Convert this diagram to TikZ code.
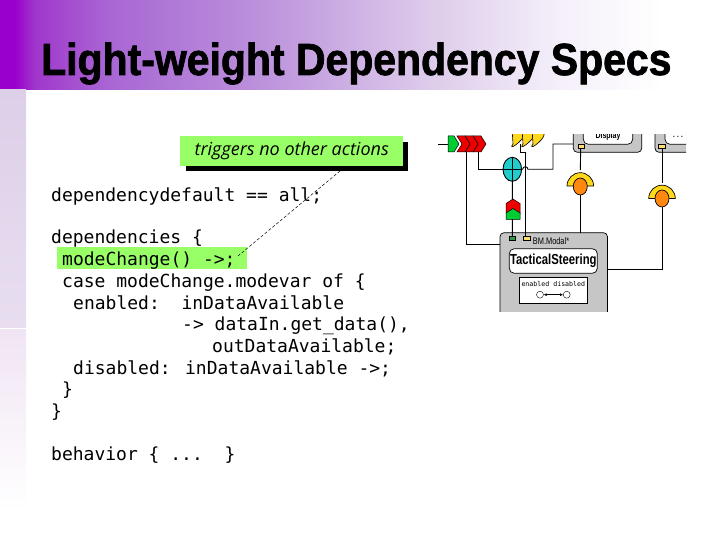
\documentclass[tikz,border=0pt]{standalone}
\usepackage{fontspec}
\usetikzlibrary{shapes.geometric,arrows.meta,calc}
\setmainfont{Liberation Sans}
\newfontfamily\codefont{DejaVu Sans Mono}
\newfontfamily\noteFont{Open Sans}
\newfontfamily\titlefont[FakeStretch=0.91,BoldFeatures={FakeBold=1.6,FakeStretch=0.91}]{Liberation Sans}
\newfontfamily\narrowfont[FakeStretch=0.78,BoldFeatures={FakeStretch=0.78}]{Liberation Sans}
\definecolor{noteGreen}{HTML}{99FF66}
\definecolor{boxGray}{HTML}{C6C6C6}
\definecolor{portYellow}{HTML}{FFDD66}
\definecolor{fanYellow}{HTML}{FFD81A}
\definecolor{orangeBall}{HTML}{FF8811}
\definecolor{cyanBall}{HTML}{22CCCC}
\definecolor{portGreen}{HTML}{339944}
\definecolor{chevRed}{HTML}{EE0000}
\definecolor{chevGreen}{HTML}{00CC33}
\definecolor{stripA}{HTML}{DCCFE8}
\definecolor{stripB}{HTML}{E8DEF0}
\definecolor{stripC}{HTML}{F0E4F3}
\pgfdeclarehorizontalshading{bandshade}{100bp}{
 rgb(0bp)=(0.60,0,0.80);
 rgb(25bp)=(0.60,0,0.80);
 rgb(26bp)=(0.60,0,0.80);
 rgb(27.5bp)=(0.63,0.22,0.80);
 rgb(32.5bp)=(0.66,0.40,0.83);
 rgb(42.5bp)=(0.73,0.56,0.86);
 rgb(55bp)=(0.87,0.80,0.92);
 rgb(64bp)=(0.96,0.94,0.98);
 rgb(71bp)=(1,1,1);
 rgb(100bp)=(1,1,1)}
\tikzset{
 code/.style={anchor=base west,inner sep=0pt,font=\codefont\fontsize{18}{18}\selectfont,text=black},
 wire/.style={draw=black,line width=0.9pt},
 graybox/.style={draw=black,line width=0.7pt,fill=boxGray,rounded corners=4pt},
 whitebox/.style={draw=black,line width=0.7pt,fill=white,rounded corners=5pt},
 port/.style={draw=black,line width=0.4pt,fill=portYellow,minimum width=7pt,minimum height=4pt,inner sep=0pt},
 chev/.style={draw=black,line width=0.5pt,fill=chevRed},
 arch/.style={draw=black,line width=0.7pt,fill=fanYellow},
 ball/.style={draw=black,line width=0.7pt,fill=orangeBall,ellipse,minimum width=14pt,minimum height=17pt,inner sep=0pt},
 statecircle/.style={circle,draw=black,line width=0.4pt,fill=white,minimum size=7pt,inner sep=0pt},
}
\begin{document}
\begin{tikzpicture}[x=1pt,y=-1pt]
\useasboundingbox (0,0) rectangle (720,540);
\fill[white] (0,0) rectangle (720,540);
% banner and side strip
\shade[shading=bandshade] (0,0) rectangle (720,90);
\shade[top color=stripA,bottom color=stripB] (0,90) rectangle (26,327);
\shade[top color=stripC,bottom color=white] (0,329) rectangle (26,510);
\node[anchor=base west,inner sep=0pt,font=\titlefont\bfseries\fontsize{45}{45}\selectfont] (title) at (41,75) {Light-weight Dependency Specs};

% highlight and callout
\fill[noteGreen] (57,247) rectangle (247,269);
\fill[black] (186,142) rectangle (408,171.5);
\node[fill=noteGreen,minimum width=223pt,minimum height=30pt,inner sep=0pt,anchor=north west,text=black,
      font=\noteFont\itshape\fontsize{18}{18}\selectfont] (note) at (180,136) {triggers no other actions};
\coordinate (target) at (238,256);
\draw[dash pattern=on 3pt off 2pt,line width=0.5pt] (340,171) -- (target);

% code
\node[code] (l1) at (51,201.5) {dependencydefault == all;};
\node[code] (l2) at (51,243.8) {dependencies \{};
\node[code] (l3) at (62,265.5) {modeChange() ->;};
\node[code] (l4) at (62,287) {case modeChange.modevar of \{};
\node[code] (l5) at (73,309) {enabled:\ \ inDataAvailable};
\node[code] (l6) at (182,330.5) {-> dataIn.get\_data(),};
\node[code] (l7) at (212,352.5) {outDataAvailable;};
\node[code] (l8) at (73,374) {disabled: inDataAvailable ->;};
\node[code] (l9) at (62,395.5) {\}};
\node[code] (l10) at (51,417.5) {\}};
\node[code] (l11) at (51,460) {behavior \{ ...\ \ \}};

% right-hand architecture fragment
\begin{scope}
\clip (438,135) rectangle (686,311);
% lower component
\draw[graybox] (500,232.7) rectangle (607.5,325);
\node[port,fill=portGreen,minimum width=6.5pt] (pg) at (512.4,238.3) {};
\node[port] (py) at (526.5,238.3) {};
\node[anchor=west,inner sep=0pt,font=\narrowfont\fontsize{9.5}{10}\selectfont] (bm) at (532.7,241.5) {BM.Modal*};
\node[whitebox,minimum width=88pt,minimum height=24.6pt,inner sep=0pt,font=\narrowfont\bfseries\fontsize{14.5}{15}\selectfont] (ts) at (553.3,261) {TacticalSteering};
\node[draw=black,line width=0.7pt,fill=white,minimum width=68pt,minimum height=26pt,inner sep=0pt] (modes) at (553.3,290.3) {};
\node[anchor=center,inner sep=0pt,font=\codefont\fontsize{6.6}{7}\selectfont] (lab) at (553.3,284.2) {enabled disabled};
\node[statecircle] (s1) at (540,294.7) {};
\node[statecircle] (s2) at (566.7,294.7) {};
\draw[line width=0.5pt,{Latex[length=3pt,width=3pt]}-{Latex[length=3pt,width=3pt]}] (s1) -- (s2);

% upper components
\draw[graybox] (573.3,120) rectangle (641.7,152.3);
\draw[whitebox] (583.3,120) rectangle (632.7,144.3);
\node[inner sep=0pt,font=\narrowfont\bfseries\fontsize{9}{9}\selectfont] (disp) at (608,136) {Display};
\node[port,minimum width=6pt] (p1) at (580.7,146.3) {};
\draw[graybox] (655,120) rectangle (720,152.3);
\draw[whitebox] (665,120) rectangle (720,144.3);
\node[inner sep=0pt,font=\narrowfont\bfseries\fontsize{8}{8}\selectfont] (disp2) at (678,137) {. . .};
\node[port] (p2) at (662,146.3) {};

% top fans
\coordinate (fanOut) at (520,144);
\foreach \fx in {512,522,532}{
 \path[draw=black,line width=0.6pt,fill=fanYellow] (\fx,128) -- ++(12,0) -- ++(0,7) .. controls ++(-1,6) and ++(-6,8) .. ++(-11,9) -- cycle;
}
% mixer
\node[ellipse,draw=black,line width=0.9pt,fill=cyanBall,minimum width=18.6pt,minimum height=24pt,inner sep=0pt] (mix) at (512.3,169.3) {};
\draw[wire] (mix.north) -- (mix.south);
\draw[wire] (mix.west) -- (mix.east);

% chevron stack on the left
\coordinate (inA) at (438,144);
\coordinate (chevL) at (448,144);
\draw[wire] (inA) -- (chevL);
\coordinate (c1) at (466,152);
\coordinate (c2) at (478,152);
\draw[wire] (c1) |- (500,244.3);
\draw[wire] (c2) |- (mix.west);
\foreach \cx in {473,465,457}{
 \path[chev] (\cx,136) -- ++(8,0) -- ++(5,8) -- ++(-5,8) -- ++(-8,0) -- ++(5,-8) -- cycle;
}
\path[chev,fill=chevGreen] (448,136) -- (454,136) -- (459,144) -- (454,152) -- (448,152) -- cycle;

% vertical feed with red-green chevron
\draw[wire] (mix.south) -- (pg.north);
\path[draw=black,line width=0.5pt,fill=chevRed] (506,203.5) -- (513,199) -- (520,203.5) -- (520,214) -- (506,214) -- cycle;
\path[draw=black,line width=0.5pt,fill=chevGreen] (506,213) -- (513,208.5) -- (520,213) -- (520,219.5) -- (506,219.5) -- cycle;

% data wire with hop
\draw[wire] (fanOut) -- (520,152) -- (525.3,152) -- (525.3,236.3);
\draw[wire] (mix.east) -- (522.7,169.3) arc[start angle=180,end angle=0,radius=2.6pt] -- (553,169.3) -- (553,144) -- (573.3,144);

% fan 1
\draw[wire] (p1.south) -- (580.3,170);
\path[arch] (567,186) arc[start angle=180,end angle=0,radius=13.3pt] -- cycle;
\node[ball] (b1) at (580.3,186.5) {};
\draw[wire] (b1.south) -- (580.3,232.7);
% fan 2
\draw[wire] (p2.south) -- (662,183);
\path[arch] (648.7,198.5) arc[start angle=180,end angle=0,radius=13.3pt] -- cycle;
\node[ball] (b2) at (662,198.5) {};
\draw[wire] (b2.south) |- (607.5,269);
\end{scope}
\end{tikzpicture}
\end{document}
